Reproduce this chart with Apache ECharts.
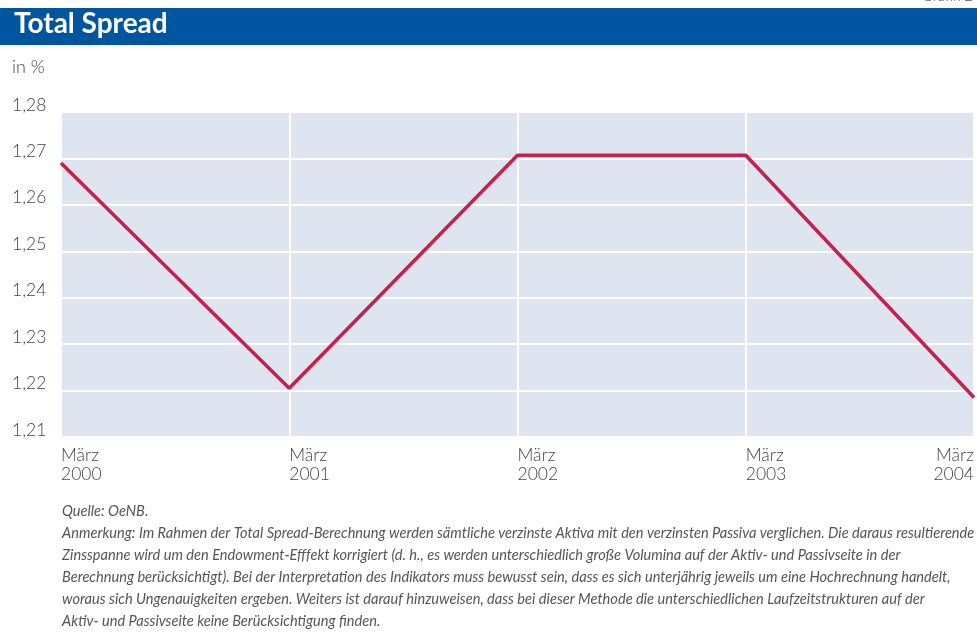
<!DOCTYPE html>
<html>
<head>
<meta charset="utf-8">
<script src="https://cdn.jsdelivr.net/npm/echarts@6/dist/echarts.min.js"></script>
<style>
html,body{margin:0;padding:0;background:#fff;}
#chart{width:977px;height:635px;}
</style>
</head>
<body>
<div id="chart"></div>
<script>
const categories = ['März\n2000', 'März\n2001', 'März\n2002', 'März\n2003', 'März\n2004'];
const spreadValues = [1.269, 1.2205, 1.2707, 1.2707, 1.2185];
const yTicks = [1.21, 1.22, 1.23, 1.24, 1.25, 1.26, 1.27, 1.28];
const titleText = 'Total Spread';
const unitText = 'in %';
const sourceText = 'Quelle: OeNB.';
const noteLines = [
  'Anmerkung: Im Rahmen der Total Spread-Berechnung werden sämtliche verzinste Aktiva mit den verzinsten Passiva verglichen. Die daraus resultierende',
  'Zinsspanne wird um den Endowment-Efffekt korrigiert (d. h., es werden unterschiedlich große Volumina auf der Aktiv- und Passivseite in der',
  'Berechnung berücksichtigt). Bei der Interpretation des Indikators muss bewusst sein, dass es sich unterjährig jeweils um eine Hochrechnung handelt,',
  'woraus sich Ungenauigkeiten ergeben. Weiters ist darauf hinzuweisen, dass bei dieser Methode die unterschiedlichen Laufzeitstrukturen auf der',
  'Aktiv- und Passivseite keine Berücksichtigung finden.'
];

const FONT = 'Lato, "Open Sans", sans-serif';
const chart = echarts.init(document.getElementById('chart'));

const noteGraphics = [{
  type: 'text', left: 62, top: 504,
  style: { text: sourceText, font: 'italic 400 14.6px ' + FONT, fill: '#555' }
}];
noteLines.forEach((line, i) => {
  noteGraphics.push({
    type: 'text', left: 62, top: 526 + i * 22,
    style: { text: line, font: 'italic 400 14.6px ' + FONT, fill: '#555' }
  });
});

const option = {
  animation: false,
  backgroundColor: '#fff',
  grid: { left: 61, right: 0, top: 112, bottom: 198, containLabel: false,
          show: true, backgroundColor: '#dfe4f1', borderWidth: 0 },
  xAxis: {
    type: 'category',
    boundaryGap: false,
    data: categories.map((c, i) => i === categories.length - 1
      ? { value: c, textStyle: { align: 'right' } } : c),
    axisLine: { show: false },
    axisTick: { show: false },
    axisLabel: {
      align: 'left', fontFamily: FONT, fontWeight: 300, fontSize: 17.5, color: '#444',
      lineHeight: 19, margin: 9, interval: 0
    },
    splitLine: { show: true, lineStyle: { color: '#ffffff', width: 2 } }
  },
  yAxis: {
    type: 'value',
    min: 1.21, max: 1.28, interval: 0.01,
    axisLine: { show: false },
    axisTick: { show: false },
    axisLabel: {
      align: 'left', margin: 49, fontFamily: FONT, fontWeight: 300, fontSize: 17.5, color: '#444',
      verticalAlign: 'bottom', padding: [0, 0, -2, 0],
      formatter: v => yTicks.find(t => Math.abs(t - v) < 1e-6).toFixed(2).replace('.', ',')
    },
    splitLine: { show: true, lineStyle: { color: '#ffffff', width: 2 } }
  },
  series: [{
    type: 'line',
    data: spreadValues,
    symbol: 'none',
    lineStyle: { color: '#c4224a', width: 3.5 },
    clip: false
  }],
  graphic: [
    { type: 'rect', shape: { x: 0, y: 8, width: 977, height: 37 }, style: { fill: '#00559f' } },
    { type: 'text', left: 14, top: 10,
      style: { text: titleText, font: 'bold 28px ' + FONT, fill: '#fff' } },
    { type: 'text', right: 4, top: -11,
      style: { text: 'Grafik 2', font: '300 15px ' + FONT, fill: '#555' } },
    { type: 'text', left: 12, top: 58,
      style: { text: unitText, font: '300 18px ' + FONT, fill: '#444' } }
  ].concat(noteGraphics)
};
chart.setOption(option);
</script>
</body>
</html>
